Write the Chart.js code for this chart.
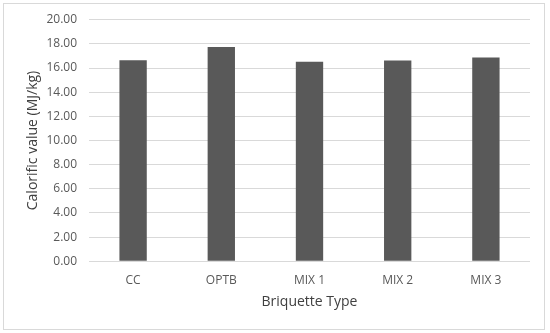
<!DOCTYPE html>
<html>
<head>
<meta charset="utf-8">
<script src="https://cdn.jsdelivr.net/npm/chart.js@4/dist/chart.umd.min.js"></script>
<style>
  html, body { margin: 0; padding: 0; background: #fff; }
  .frame { position: absolute; left: 3px; top: 3px; width: 540px; height: 325px; border: 1px solid #d9d9d9; }
  .wrap { position: absolute; left: 0; top: 0; width: 550px; height: 333px; }
</style>
</head>
<body>
<div class="frame"></div>
<div class="wrap"><canvas id="chart"></canvas></div>
<script>
const categories = ['CC', 'OPTB', 'MIX 1', 'MIX 2', 'MIX 3'];
const calorificValues = [16.64, 17.75, 16.51, 16.62, 16.88];
const yTicks = [0, 2, 4, 6, 8, 10, 12, 14, 16, 18, 20];

const FONT = '"Open Sans", Lato, sans-serif';
const TEXT = '#595959';

const ctx = document.getElementById('chart');

new Chart(ctx, {
  type: 'bar',
  data: {
    labels: categories,
    datasets: [{
      data: calorificValues,
      backgroundColor: '#595959',
      barPercentage: 0.31,
      categoryPercentage: 1
    }]
  },
  options: {
    responsive: true,
    maintainAspectRatio: false,
    animation: false,
    events: [],
    layout: {
      padding: { left: 4, top: 19.7, right: 20, bottom: 4 }
    },
    plugins: {
      legend: { display: false },
      tooltip: { enabled: false }
    },
    scales: {
      x: {
        grid: { display: false },
        border: { display: false },
        ticks: { color: TEXT, font: { family: FONT, size: 12 }, padding: 4 },
        title: {
          display: true,
          text: 'Briquette Type',
          color: '#404040',
          font: { family: FONT, size: 14 },
          padding: { top: 0, bottom: 18.6 }
        },
        afterFit: (scale) => { scale.height = 67.7; }
      },
      y: {
        min: 0,
        max: 20,
        afterBuildTicks: (scale) => { scale.ticks = yTicks.map(v => ({ value: v })); },
        grid: { color: '#d9d9d9', drawTicks: false, lineWidth: 1 },
        border: { display: false },
        ticks: {
          color: TEXT,
          font: { family: FONT, size: 12 },
          padding: 12,
          callback: (v) => v.toFixed(2)
        },
        title: {
          display: true,
          text: 'Calorific value (MJ/kg)',
          color: '#404040',
          font: { family: FONT, size: 14 },
          padding: { top: 20.5, bottom: 0 }
        },
        afterFit: (scale) => { scale.width = 85; }
      }
    }
  }
});
</script>
</body>
</html>
